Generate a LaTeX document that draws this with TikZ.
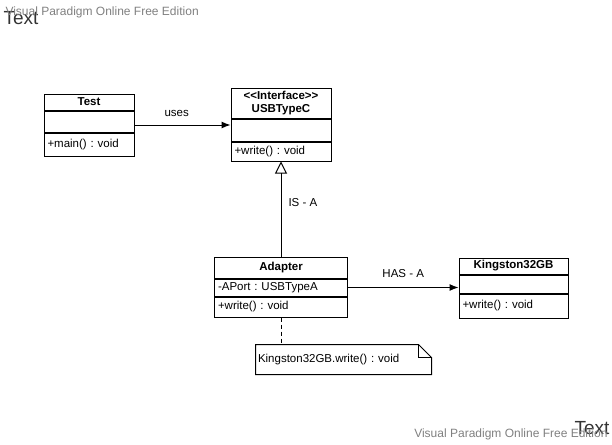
\documentclass[tikz,border=0pt]{standalone}
\usepackage{fontspec}
\setmainfont{Liberation Sans}
\usetikzlibrary{calc}
\usetikzlibrary{positioning}
\usetikzlibrary{arrows.meta}
\definecolor{wmgray}{RGB}{128,128,128}
\definecolor{wmdark}{RGB}{51,51,51}
\frenchspacing

\begin{document}
\begin{tikzpicture}[x=1pt,y=-1pt,node distance=0pt,>={Latex[length=9pt,width=7pt]},line width=1pt,
 every node/.style={font=\fontsize{11.5}{13}\selectfont},
 hd/.style 2 args={draw,minimum width=#1,minimum height=#2,inner sep=0pt,align=center,font=\fontsize{11.5}{13}\selectfont\bfseries},
 cmp/.style 2 args={draw,text width=#1,minimum height=#2,inner xsep=3.5pt,inner ysep=0pt,align=left},
 lbl/.style={inner sep=0pt},
 isa/.style={-{Triangle[open,length=12pt,width=12pt]}},
 wm/.style={inner sep=0pt,text=wmgray,font=\fontsize{12}{14}\selectfont},
 wmtext/.style={inner sep=0pt,text=wmdark,font=\fontsize{19}{21}\selectfont}]

\useasboundingbox (0,0) rectangle (612,444);

\node[wmtext,anchor=west] (txt tl) at (3,18) {Text};
\node[wm,anchor=west] (vp tl) at (5,12) {Visual Paradigm Online Free Edition};

\node[hd={90pt}{16pt}] (test head) at (89,102) {Test};
\node[cmp={83pt}{21pt},below=of test head] (test attr) {};
\node[cmp={83pt}{23pt},below=of test attr] (test ops) {+main() : void};

\node[hd={100pt}{30pt}] (usb head) at (281,103) {<\kern0pt<Interface>\kern0pt>\\USBTypeC};
\node[cmp={93pt}{22pt},below=of usb head] (usb attr) {};
\node[cmp={93pt}{19pt},below=of usb attr] (usb ops) {+write() : void};

\node[hd={133pt}{21pt}] (adapter head) at (281,267.5) {Adapter};
\node[cmp={126pt}{17pt},below=of adapter head] (adapter attr) {-APort : USBTypeA};
\node[cmp={126pt}{20pt},below=of adapter attr] (adapter ops) {+write() : void};

\node[hd={109pt}{16pt}] (king head) at (513.5,266) {Kingston32GB};
\node[cmp={102pt}{18pt},below=of king head] (king attr) {};
\node[cmp={102pt}{24pt},below=of king attr] (king ops) {+write() : void};

\node[text width=171pt,minimum height=29pt,inner xsep=2pt,inner ysep=0pt,align=left] (note) at (343.5,359.5) {Kingston32GB.write() : void};
\draw (note.south west) |- ($(note.north east)+(-13,0)$) -- ($(note.north east)+(0,13)$) |- cycle;
\draw ($(note.north east)+(-13,0)$) -- ++(0,13) -- ($(note.north east)+(0,13)$);

\coordinate (uses start) at ($(test head.north east)!0.5!(test ops.south east)$);
\draw[->] (uses start) -- (uses start -| usb attr.west) node[lbl,pos=0.44,above=8pt] {uses};
\draw[isa] (adapter head.north) -- (usb ops.south) node[lbl,pos=0.57,right=7pt] {IS - A};
\draw[->] (adapter attr.east) -- (adapter attr.east -| king attr.west) node[lbl,midway,above=9pt] {HAS - A};
\draw[dashed,dash pattern=on 4pt off 3pt] (adapter ops.south) -- (adapter ops.south |- note.north);

\node[wmtext,anchor=east] (txt br) at (610,428) {Text};
\node[wm,anchor=east] (vp br) at (608,434) {Visual Paradigm Online Free Edition};
\end{tikzpicture}
\end{document}
